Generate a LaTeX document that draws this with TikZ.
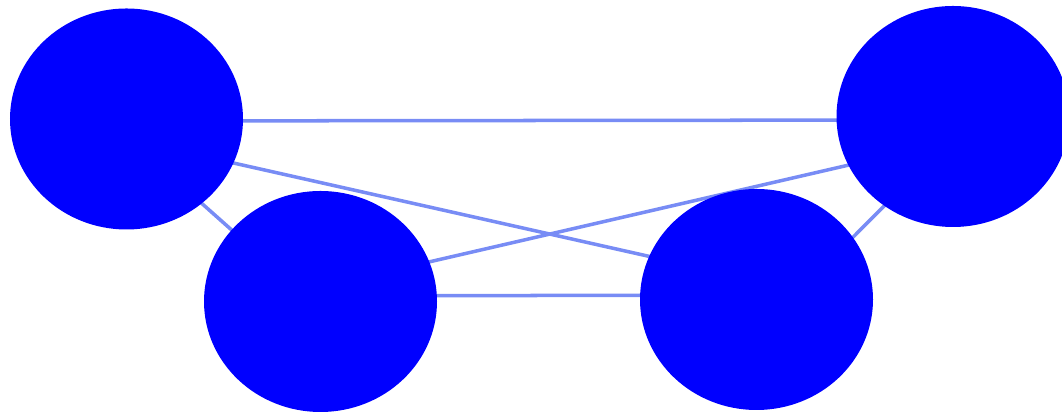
\documentclass[tikz,border=0pt]{standalone}
\usepackage{tikz}
\usetikzlibrary{shapes.geometric, backgrounds}

\definecolor{edgeblue}{RGB}{120,140,245}
\tikzset{
  vertex/.style={ellipse, fill=blue, draw=none, inner sep=0pt,
    minimum width=4.66cm, minimum height=4.42cm},
  link/.style={draw=edgeblue, line width=2pt}
}

\begin{document}
\begin{tikzpicture}
  \useasboundingbox (0,0) rectangle (21.24,8.24);

  \node[vertex] (tl) at (2.53,5.86) {};
  \node[vertex] (tr) at (19.06,5.91) {};
  \node[vertex] (bl) at (6.41,2.21) {};
  \node[vertex] (br) at (15.13,2.25) {};

  \begin{scope}[on background layer]
    \draw[link] ([yshift=-0.04cm]tl.center) -- ([yshift=-0.07cm]tr.center);
    \draw[link] ([yshift=-0.40cm]tl.center) -- ([yshift=0.38cm]br.center);
    \draw[link] ([yshift=0.29cm]bl.center) -- ([yshift=-0.49cm]tr.center);
    \draw[link] ([yshift=0.11cm]bl.center) -- ([yshift=0.09cm]br.center);
    \draw[link] ([yshift=-0.35cm]tl.center) -- ([yshift=-0.15cm]bl.center);
    \draw[link] ([yshift=-0.70cm]br.center) -- ([yshift=-0.40cm]tr.center);
  \end{scope}
\end{tikzpicture}
\end{document}
